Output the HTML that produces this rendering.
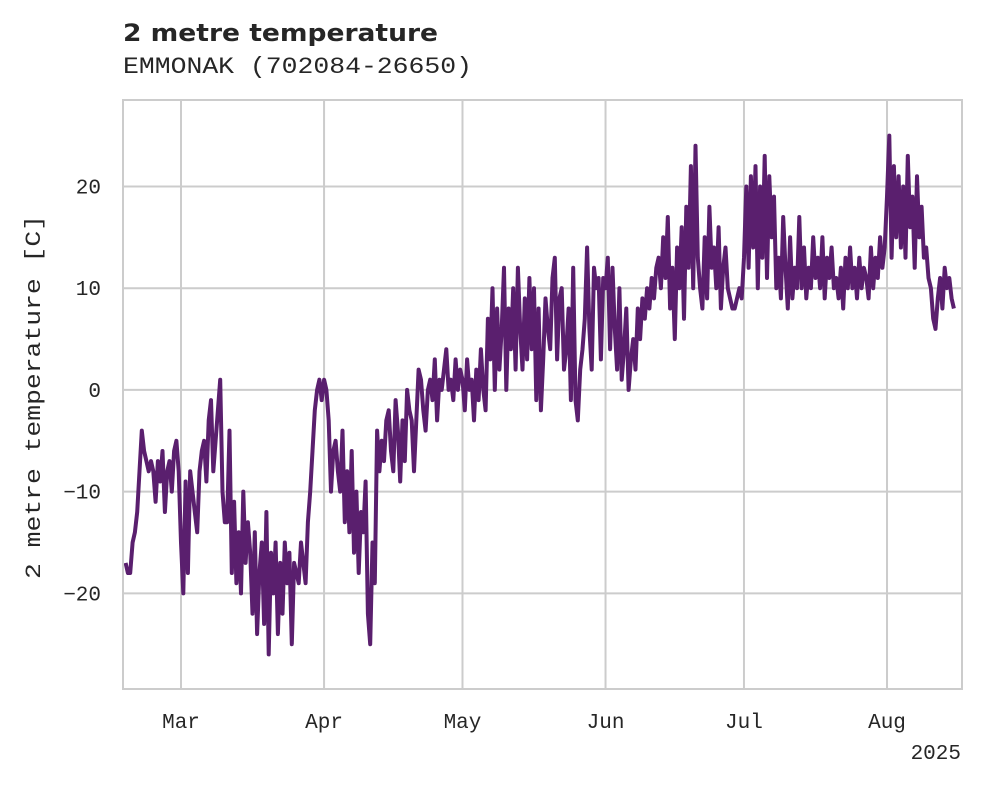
<!DOCTYPE html>
<html><head><meta charset="utf-8"><style>
body{margin:0;background:#fff;}
svg text{font-family:"Liberation Mono","DejaVu Sans Mono",monospace;fill:#262626;}
</style></head><body>
<svg id="chart" width="981" height="785" viewBox="0 0 981 785" xmlns="http://www.w3.org/2000/svg">
<text x="123" y="41" textLength="315" lengthAdjust="spacingAndGlyphs" style="font-family:'DejaVu Sans','Liberation Sans',sans-serif;font-weight:bold;font-size:24px">2 metre temperature</text>
<text x="123" y="73" font-size="23" textLength="349" lengthAdjust="spacingAndGlyphs">EMMONAK (702084-26650)</text>
<g id="grid"></g>
<g id="series"></g>
<rect x="123" y="100" width="839" height="589" fill="none" stroke="#cccccc" stroke-width="2"/>
<g id="axes"></g>
<text transform="translate(40,397) rotate(-90)" text-anchor="middle" font-size="22" textLength="364" lengthAdjust="spacingAndGlyphs">2 metre temperature [C]</text>
<text x="961" y="759" text-anchor="end" font-size="21">2025</text>
</svg>
<script>
const startDay = -12; // days relative to Mar 1 (Feb 17)
const stepDays = 0.5;
const temps = [
-17,-18,-18,-15,-14,-12,-8,-4,
-6,-7,-8,-7,-8,-11,-7,-9,-6,-12,-8,-7,-10,-6,-5,-8,
-15,-20,-9,-18,-8,-10,-12,-14,-8,-6,-5,-9,
-3,-1,-8,-5,-2,1,-10,-13,
-13,-4,-18,-11,-19,-14,-20,-10,-17,-13,-16,-22,-14,-24,-18,-15,-23,-12,-26,-16,
-20,-15,-24,-17,-22,-15,-19,-16,-25,-17,-18,-19,-15,-17,-19,-13,-10,-6,-2,0,1,-1,
1,0,-3,-10,-6,-5,-8,-10,-4,-13,-8,-14,-6,-16,-10,-18,-12,-14,-9,-22,
-25,-15,-19,-4,-8,-5,-7,-3,-2,-6,-8,-1,-4,-9,-3,-7,0,-2,-3,-8,
-3,2,1,-2,-4,0,1,-1,3,-3,1,0,2,4,0,1,-1,3,0,2,
1,-2,3,0,1,-3,2,-1,4,0,-2,7,3,10,0,8,2,6,12,0,8,4,10,2,12,6,2,9,3,11,
4,10,-1,8,-2,3,9,6,4,11,13,3,9,10,2,4,8,-1,12,-1,-3,2,4,7,14,6,2,12,10,11,3,11,
10,13,4,12,6,2,10,1,4,8,0,3,5,2,8,5,9,7,10,8,
11,9,12,13,10,15,11,17,8,12,5,14,10,16,7,18,12,22,10,24,
13,10,8,15,9,18,12,14,10,16,8,12,14,10,9,8,8,9,10,9,
13,20,12,21,14,22,10,20,13,23,11,21,15,19,10,13,9,17,12,8,
15,9,12,10,17,10,14,9,12,10,15,11,13,10,15,9,13,11,14,10,
11,9,12,8,13,10,14,10,12,9,13,10,12,11,9,14,10,13,11,15,12,14,
19,25,13,22,15,21,14,20,13,23,16,19,12,21,15,18,13,14,11,10,7,6,9,11,8,12,10,11,9,8
];
const yTicks = [-20,-10,0,10,20];
const yTickLabels = ["\u221220","\u221210","0","10","20"];
const monthDays = [0,31,61,92,122,153]; // days since Mar 1
const monthLabels = ["Mar","Apr","May","Jun","Jul","Aug"];

const X0=123,X1=962,Y0=100,Y1=689;
const dMin=-12.57,dMax=169.25;
function xs(d){return X0+(d-dMin)/(dMax-dMin)*(X1-X0);}
const vMin=-29.4,vMax=28.5;
function ys(v){return Y1-(v-vMin)/(vMax-vMin)*(Y1-Y0);}
const NS="http://www.w3.org/2000/svg";
const grid=document.getElementById('grid'),axes=document.getElementById('axes'),series=document.getElementById('series');
yTicks.forEach((t,i)=>{
  const l=document.createElementNS(NS,'line');
  
  
  l.setAttribute('x1',X0);l.setAttribute('x2',X1);l.setAttribute('y1',ys(t));l.setAttribute('y2',ys(t));
  l.setAttribute('stroke','#cccccc');l.setAttribute('stroke-width','2');grid.appendChild(l);
  const tx=document.createElementNS(NS,'text');
  
  
  tx.setAttribute('x',101);tx.setAttribute('y',ys(t)+7);tx.setAttribute('text-anchor','end');tx.setAttribute('font-size','21');
  tx.textContent=yTickLabels[i];axes.appendChild(tx);
});
monthDays.forEach((d,i)=>{
  const l=document.createElementNS(NS,'line');
  
  
  l.setAttribute('x1',xs(d));l.setAttribute('x2',xs(d));l.setAttribute('y1',Y0);l.setAttribute('y2',Y1);
  l.setAttribute('stroke','#cccccc');l.setAttribute('stroke-width','2');grid.appendChild(l);
  const tx=document.createElementNS(NS,'text');
  
  
  tx.setAttribute('x',xs(d));tx.setAttribute('y',728);tx.setAttribute('text-anchor','middle');tx.setAttribute('font-size','21');
  tx.textContent=monthLabels[i];axes.appendChild(tx);
});
const pts=temps.map((v,i)=>xs(startDay+i*stepDays).toFixed(1)+','+ys(v).toFixed(1)).join(' ');
const pl=document.createElementNS(NS,'polyline');


pl.setAttribute('points',pts);pl.setAttribute('fill','none');pl.setAttribute('stroke','#5a1f6e');
pl.setAttribute('stroke-width','4');pl.setAttribute('stroke-linejoin','round');
series.appendChild(pl);
</script>
</body></html>
